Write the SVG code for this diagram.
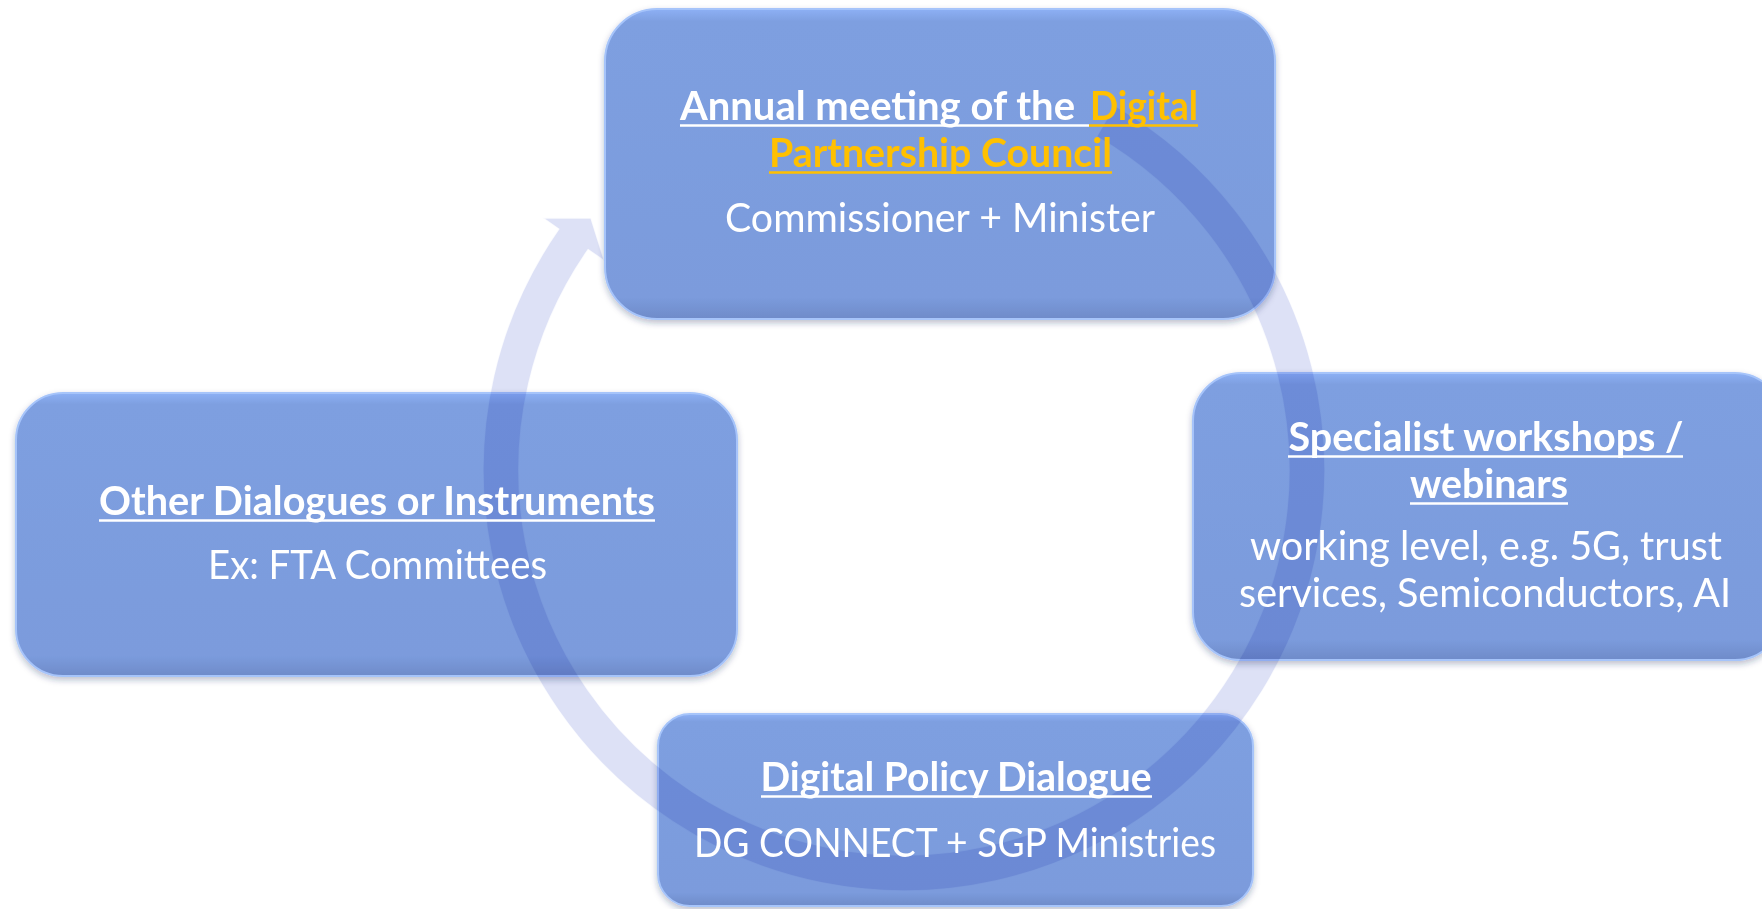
<svg xmlns="http://www.w3.org/2000/svg" width="1762" height="909" viewBox="0 0 1762 909">
  <defs>
    <linearGradient id="boxFill" x1="0" y1="0" x2="0" y2="1">
      <stop offset="0" stop-color="#8DB0F5"/>
      <stop offset="0.04" stop-color="#7E9FE0"/>
      <stop offset="0.93" stop-color="#7B9BDC"/>
      <stop offset="1" stop-color="#6F8BC9"/>
    </linearGradient>
    <filter id="shadow" x="-5%" y="-5%" width="110%" height="115%">
      <feDropShadow dx="0" dy="3" stdDeviation="3" flood-color="#1a2a5a" flood-opacity="0.3"/>
    </filter>
  </defs>
  <style>
    .box { fill: url(#boxFill); stroke: #A6C4FA; stroke-width: 2; filter: url(#shadow); mix-blend-mode: multiply; }
    .t { font-family: Lato, "Open Sans", "Liberation Sans", sans-serif; font-size: 41px; fill: #FFFFFF; }
    .b { font-weight: 700; }
    .or { fill: #FFC000; }
    .ul { stroke: #FFFFFF; stroke-width: 2.6; }
    .ulo { stroke: #FFC000; stroke-width: 2.6; }
    .band { fill: #DDE1F6; stroke: #FFFFFF; stroke-opacity: 0.8; stroke-width: 1.5; }
  </style>
  <rect width="1762" height="909" fill="#FFFFFF"/>

  <g id="connectors">
    <path class="band" d="M1114.5,105.4 A421,421 0 1 1 558.7,229.1 L542.3,217.7 L591,218 L604.6,261.2 L588.2,249.7 A385,385 0 1 0 1096.5,136.6 Z"/>
  </g>

  <g id="node-annual">
    <rect class="box" x="605" y="9" width="670" height="310" rx="52" ry="52"/>
    <text class="t b" x="680" y="120" textLength="395" lengthAdjust="spacingAndGlyphs">Annual meeting of the</text>
    <text class="t b or" x="1090" y="120" textLength="108" lengthAdjust="spacingAndGlyphs">Digital</text>
    <line class="ul" x1="680" y1="125.5" x2="1089" y2="125.5"/>
    <line class="ulo" x1="1089" y1="125.5" x2="1198" y2="125.5"/>
    <text class="t b or" x="769" y="167" textLength="343" lengthAdjust="spacingAndGlyphs">Partnership Council</text>
    <line class="ulo" x1="769" y1="172.5" x2="1112" y2="172.5"/>
    <text class="t" x="940" y="232" text-anchor="middle" textLength="430" lengthAdjust="spacingAndGlyphs">Commissioner + Minister</text>
  </g>

  <g id="node-other">
    <rect class="box" x="16" y="393" width="721" height="283" rx="47" ry="47"/>
    <text class="t b" x="377" y="515" text-anchor="middle" textLength="556" lengthAdjust="spacingAndGlyphs">Other Dialogues or Instruments</text>
    <line class="ul" x1="99" y1="520.5" x2="655" y2="520.5"/>
    <text class="t" x="377.5" y="579" text-anchor="middle" textLength="339" lengthAdjust="spacingAndGlyphs">Ex: FTA Committees</text>
  </g>

  <g id="node-specialist">
    <rect class="box" x="1193" y="373" width="590" height="287" rx="48" ry="48"/>
    <text class="t b" x="1486" y="451" text-anchor="middle" textLength="395" lengthAdjust="spacingAndGlyphs">Specialist workshops /</text>
    <line class="ul" x1="1288" y1="456.5" x2="1683" y2="456.5"/>
    <text class="t b" x="1489" y="498" text-anchor="middle" textLength="158" lengthAdjust="spacingAndGlyphs">webinars</text>
    <line class="ul" x1="1410" y1="503.5" x2="1568" y2="503.5"/>
    <text class="t" x="1486" y="560" text-anchor="middle" textLength="472" lengthAdjust="spacingAndGlyphs">working level, e.g. 5G, trust</text>
    <text class="t" x="1485" y="607" text-anchor="middle" textLength="492" lengthAdjust="spacingAndGlyphs">services, Semiconductors, AI</text>
  </g>

  <g id="node-policy">
    <rect class="box" x="658" y="714" width="595" height="192" rx="32" ry="32"/>
    <text class="t b" x="956" y="791" text-anchor="middle" textLength="391" lengthAdjust="spacingAndGlyphs">Digital Policy Dialogue</text>
    <line class="ul" x1="761" y1="796.5" x2="1152" y2="796.5"/>
    <text class="t" x="955" y="857" text-anchor="middle" textLength="522" lengthAdjust="spacingAndGlyphs">DG CONNECT + SGP Ministries</text>
  </g>
</svg>
